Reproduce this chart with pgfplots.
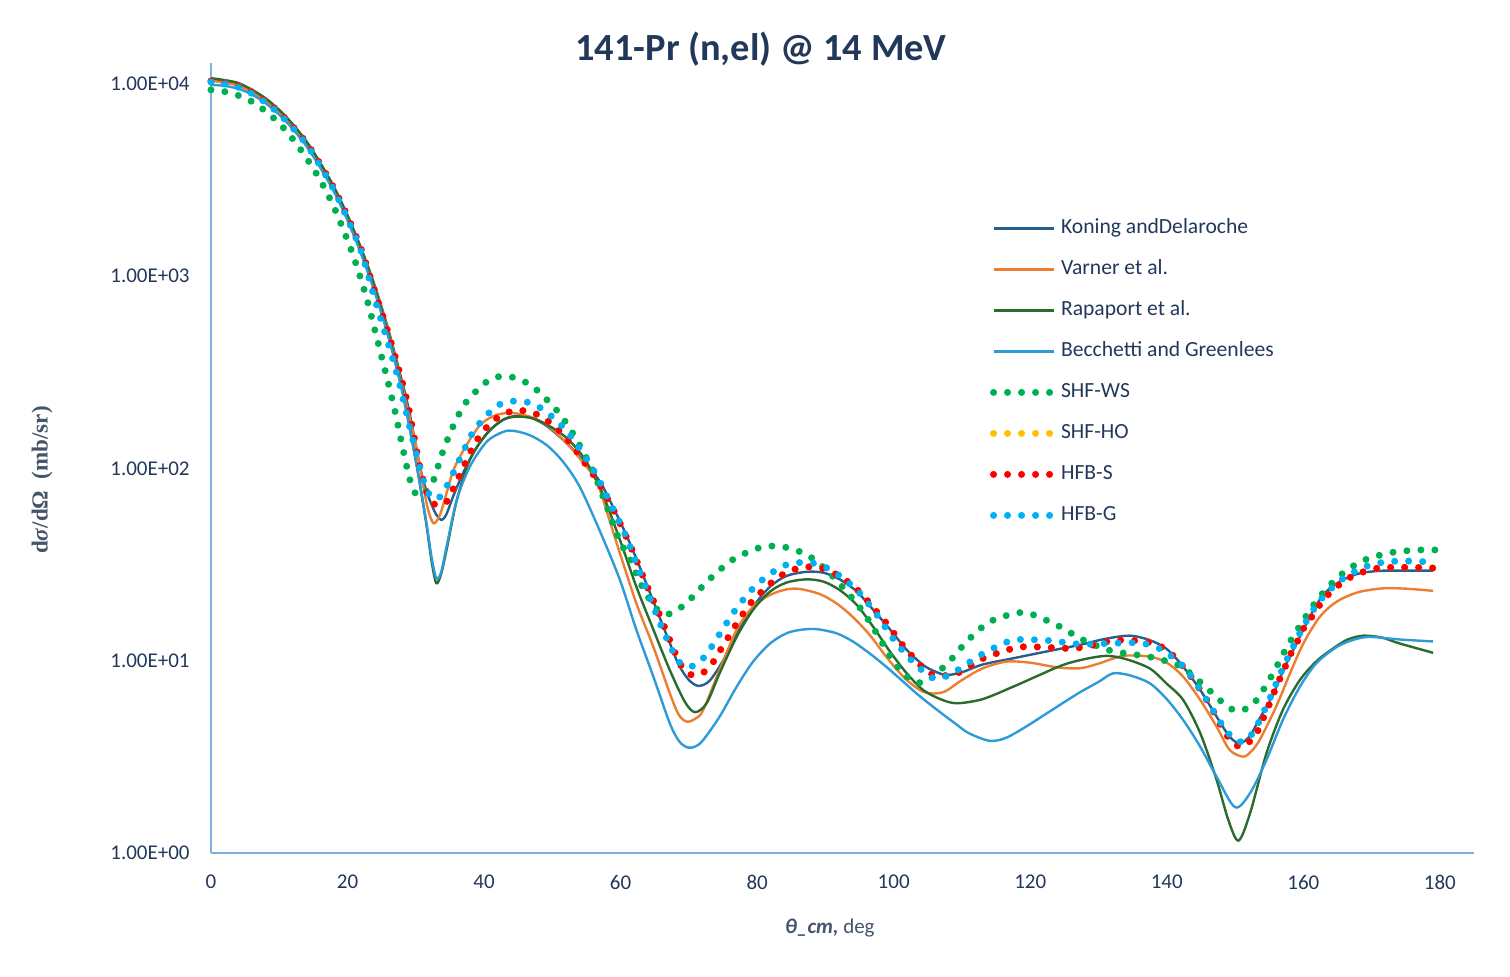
\documentclass[border=0pt]{standalone}
\usepackage{pgfplots}
\pgfplotsset{compat=1.18}
\usepackage{fontspec}
\setmainfont{Carlito}
\newfontfamily\serifb{Liberation Serif}
\definecolor{kon}{HTML}{255E91}
\definecolor{var}{HTML}{ED7D31}
\definecolor{rap}{HTML}{2A6B2E}
\definecolor{bec}{HTML}{2E9BD8}
\definecolor{shfws}{HTML}{00B050}
\definecolor{shfho}{HTML}{FFC000}
\definecolor{hfbs}{HTML}{FF0000}
\definecolor{hfbg}{HTML}{00B0F0}
\definecolor{axisc}{HTML}{7EB0E3}
\definecolor{txtc}{HTML}{22385A}
\definecolor{labc}{HTML}{44546A}
\begin{document}
\begin{tikzpicture}
\useasboundingbox (0,0) rectangle (755pt,488pt);
\node[font=\fontsize{19.2}{23}\selectfont\bfseries, text=txtc] at (380.5pt,463.5pt) {141-Pr (n,el) @ 14 MeV};
\begin{axis}[
  at={(105.5pt,61.5pt)}, anchor=south west,
  scale only axis, width=631.5pt, height=395pt,
  xmin=0, xmax=185, ymin=1, ymax=12850, ymode=log,
  clip=false,
  axis x line*=bottom, axis y line*=left,
  axis line style={draw=axisc, line width=1pt},
  tick style={draw=none},
  major tick length=0pt, minor tick length=0pt,
  yminorticks=false,
  xtick={0,20,...,180},
  ytick={1,10,100,1000,10000},
  yticklabels={1.00E+00,1.00E+01,1.00E+02,1.00E+03,1.00E+04},
  /pgf/number format/assume math mode=true,
  ticklabel style={font=\fontsize{10.5}{12}\selectfont, text=txtc},
  xticklabel style={anchor=center, yshift=-14.5pt},
  yticklabel style={anchor=east, inner sep=0pt, xshift=-10.5pt},
  xlabel={\textbf{\textit{θ\_cm,}} deg},
  xlabel style={at={(axis description cs:0.49,0)}, anchor=center, yshift=-37.5pt, font=\fontsize{10.5}{12}\selectfont, text=labc},
  ylabel={\serifb\bfseries d\textit{σ}/dΩ\ \ (mb/sr)},
  ylabel style={at={(axis description cs:-0.1338,0.472)}, anchor=center, rotate=0, font=\fontsize{11.5}{13}\selectfont, text=labc},
  legend cell align=left,
  legend style={draw=none, fill=none, at={(rel axis cs:0.6165,0.8025)}, anchor=north west,
    font=\fontsize{10.8}{12}\selectfont, text=txtc, row sep=11.5pt, column sep=2pt, inner sep=0pt,
    nodes={inner sep=0pt, text height=7pt, text depth=2pt}},
  legend image code/.code={\draw[#1] (0pt,0pt) -- (30pt,0pt);},
  lin/.style={smooth, tension=0.5, line width=1.2pt},
  dots/.style={smooth, tension=0.5, line width=3.5pt, line cap=round, dash pattern=on 0pt off 7pt},
]
\addplot[lin, kon] coordinates {(0,10470)(2,10230)(4,9890)(6,9120)(8,8220)(10,7160)(12,6050)(14,4970)(16,3870)(18,2900)(20,2066)(22,1396)(24,891)(26,525)(28,282)(29,201)(30,132)(31,89)(32,69)(33,57.5)(33.8,54)(34.5,58)(35.5,72)(37,96)(39,130)(41,160)(43,181)(45,188)(47,183)(49,168)(51,147)(53,126)(55,105)(57,85)(59,62)(61,43.7)(63,29.5)(65,19.5)(67,12.9)(68.5,9.55)(70,7.94)(71.4,7.40)(73,7.85)(75,10.0)(77,13.9)(79.4,19.1)(81.9,24.3)(84.3,27.6)(87.2,29.0)(89.7,28.7)(92.1,26.5)(94.6,22.9)(97,18.4)(99.5,14.5)(101.9,11.4)(104.3,9.51)(106,8.81)(107.7,8.43)(110,8.71)(113,9.55)(117.5,10.3)(122,11.1)(127.3,12.1)(131,13.0)(134.6,13.5)(137.5,12.8)(140,11.5)(142.4,9.31)(144.9,7.05)(147.3,5.12)(149.2,4.03)(150.7,3.72)(152.2,4.07)(153.6,5.01)(155.5,6.61)(157.2,9.12)(159,12.3)(161.9,19.5)(164,24.0)(166.8,27.4)(169,28.8)(171.7,29.4)(175,29.4)(179,29.4)};
\addlegendentry{Koning andDelaroche}
\addplot[lin, var] coordinates {(0,10400)(2,10150)(4,9800)(6,9050)(8,8150)(10,7100)(12,6000)(14,4920)(16,3830)(18,2870)(20,2040)(22,1380)(24,880)(26,515)(28,269)(29,190)(30,133)(31,85)(31.8,61)(32.6,51.9)(33.5,57)(34.5,74.3)(35.5,97.7)(37,124.7)(39.4,168)(41.8,190)(44.3,194)(46.7,186)(49.2,168)(51.6,141)(54,113)(56.5,85.3)(58.2,56.2)(59.9,36.2)(62.3,19.9)(64.8,11.8)(67.2,6.78)(68.5,5.25)(69.7,4.82)(71,5.01)(72.1,5.55)(74.5,8.95)(77,14.5)(79.4,19.1)(81.9,22.0)(84.3,23.5)(86.3,23.6)(89.2,22.2)(91.6,19.9)(94,16.9)(96.5,13.6)(98.9,10.5)(101.4,8.26)(103.8,7.05)(105.5,6.76)(107.5,6.92)(110,7.94)(113,9.12)(116.5,9.89)(120,9.77)(124,9.23)(127.3,9.14)(130,9.66)(133.6,10.6)(137.5,10.5)(140,9.77)(142.4,8.26)(144.9,6.25)(147.3,4.54)(149.2,3.44)(151.2,3.17)(152.4,3.39)(153.6,3.87)(156,5.75)(158,8.51)(160,12.3)(162.4,16.9)(164.9,20.3)(168,22.7)(171.7,23.8)(175,23.7)(179,23.1)};
\addlegendentry{Varner et al.}
\addplot[lin, rap] coordinates {(0,10720)(2,10470)(4,10120)(6,9333)(8,8414)(10,7328)(12,6166)(14,5012)(16,3890)(18,2917)(20,2065)(22,1380)(24,871)(26,501)(28,257)(30,110)(31.5,52.5)(32.3,33.1)(33,25.3)(33.7,28.2)(34.5,37.7)(36,68.5)(37.9,111)(40.4,152)(42.8,179)(44.8,186)(47.2,182)(49.6,166)(52.1,144)(54.5,115)(57,79.4)(59.9,42.5)(62.3,24.3)(64.8,14.5)(67.2,8.95)(69.4,6.12)(70.9,5.40)(72.6,6.01)(74.5,8.61)(77,13.3)(79.4,18.4)(81.9,22.9)(84.3,25.5)(87.2,26.5)(89.7,25.8)(92.1,23.3)(94.6,19.5)(97,15.0)(99.5,11.1)(101.9,8.61)(104.3,7.05)(106.8,6.32)(109.2,6.01)(113,6.31)(117.5,7.33)(121,8.32)(124.8,9.51)(128,10.2)(131.2,10.6)(134,10.2)(137.5,9.12)(140,7.59)(142.4,6.25)(144.9,4.20)(147.3,2.40)(149,1.49)(150.5,1.16)(152.2,1.61)(154.6,3.30)(157,5.55)(159.5,7.94)(162,10.0)(164.4,11.6)(166.5,12.9)(168.8,13.5)(171.5,13.2)(174.1,12.3)(179,11.0)};
\addlegendentry{Rapaport et al.}
\addplot[lin, bec] coordinates {(0,9886)(2,9772)(4,9441)(6,8810)(8,7943)(10,6918)(12,5821)(14,4732)(16,3673)(18,2754)(20,1950)(22,1303)(24,822)(26,479)(28,251)(30,110)(31.5,53.7)(32.3,34.7)(33,26.9)(33.7,28.8)(34.5,39.2)(36,68.5)(37.9,102)(40.4,138)(42.8,155)(44.3,157)(46.7,149)(49.2,132)(51.6,108)(54,80.4)(57,46.9)(59.9,26.3)(62.3,14.5)(64.8,8.26)(67.2,4.73)(68.6,3.80)(69.9,3.53)(71,3.59)(72.1,3.87)(74.5,5.12)(77,7.33)(79.4,9.89)(81.9,12.3)(84.3,13.9)(86.5,14.5)(88.7,14.6)(91.6,13.9)(94,12.6)(96.5,10.9)(98.9,9.31)(101.4,7.78)(103.8,6.55)(106.8,5.40)(109,4.72)(111,4.20)(114.1,3.83)(116.5,3.98)(119.5,4.57)(122.4,5.32)(127,6.76)(130,7.76)(132.1,8.59)(134.5,8.41)(137.5,7.64)(140,6.31)(142.4,4.92)(144.9,3.57)(147.3,2.49)(150,1.73)(152.2,2.05)(154.6,3.05)(157,4.92)(159.5,7.33)(161.9,9.70)(164.9,11.8)(167.5,12.9)(169.8,13.3)(174.1,12.9)(179,12.6)};
\addlegendentry{Becchetti and Greenlees}
\addplot[dots, shfws] coordinates {(0,9311)(2,9120)(4,8710)(6,8091)(8,7211)(10,6237)(12,5164)(14,4111)(16,3162)(18,2291)(20,1538)(21,1230)(22,955)(23,724)(24,525)(25,380)(26,275)(27,195)(28,132)(29,91.2)(29.6,77.6)(30.3,72.4)(31.1,73.6)(32.5,85.3)(33.8,118)(35.4,164)(37.4,222)(40.4,283)(42.3,301)(44.4,297)(46.4,277)(48.1,249)(51,194)(53.3,146)(55.3,108)(56.2,92.5)(58,63.1)(59.9,41.6)(61.1,35.5)(62.8,25.8)(63.8,22.2)(65,19.0)(66.7,17.4)(68.7,18.8)(70.2,20.9)(73.2,26.9)(76.5,33.7)(80.3,38.7)(82.4,39.5)(84.5,38.7)(86.5,36.6)(88.3,33.7)(90.5,28.8)(92.7,23.8)(95.5,18.0)(97.7,13.5)(99.9,10.0)(101.3,8.71)(102.9,7.78)(104.8,7.78)(106.5,8.77)(108,9.77)(110.8,12.7)(114,15.9)(118,17.7)(120.1,17.5)(124.1,15.2)(127.8,12.8)(131.7,11.3)(135.8,10.7)(137.9,10.4)(141.9,9.40)(145.1,7.64)(148.3,6.01)(150.1,5.50)(152.1,5.73)(153.5,6.50)(155.7,8.77)(157.6,11.8)(159.9,16.0)(162.3,21.3)(165.2,27.4)(168.6,33.0)(172.8,36.5)(177,37.7)(179.3,37.7)};
\addlegendentry{SHF-WS}
\addplot[dots, shfho] coordinates {(0,10350)(2,10120)(4,9772)(6,9078)(8,8128)(10,7112)(12,5998)(14,4920)(16,3828)(18,2871)(20,2042)(22,1380)(24,832)(26,501)(28,282)(29,201)(30.6,102)(31.8,72.4)(33.1,64.1)(34.76,68.5)(35.6,80.4)(36.5,93.5)(38.3,128)(39.4,148)(40.8,170)(42.4,188)(44.4,200)(46.5,198)(48.4,186)(50.1,168)(51.6,149)(53,130)(54.2,114)(55.4,98.9)(56.6,86.5)(59,60.3)(61.4,39.8)(63.8,24.8)(65.5,18.0)(67.2,12.8)(68.8,9.51)(70.4,8.43)(72.1,8.67)(73.6,9.89)(74.7,11.5)(75.8,13.3)(76.9,15.4)(78.1,17.9)(79.3,20.5)(80.8,23.1)(82.4,26.0)(84.2,28.7)(86.1,30.3)(88.2,30.8)(90.3,29.7)(92.1,27.4)(93.9,24.8)(95.4,22.0)(96.9,19.1)(98.2,16.8)(99.5,14.8)(100.7,12.8)(102,11.3)(103.4,9.89)(104.9,8.77)(106.5,8.34)(109,8.53)(110.9,9.25)(112.6,10.1)(114.7,10.8)(116.7,11.4)(118.7,11.8)(120.8,11.8)(123,11.7)(125.1,11.6)(127.3,11.7)(129.4,12.1)(131.4,12.6)(133.5,12.8)(135.6,12.7)(137.6,12.4)(139.6,11.6)(141.2,10.4)(142.6,9.14)(143.9,7.94)(145.1,6.90)(146.3,5.89)(147.3,5.08)(148.3,4.37)(149.5,3.79)(150.5,3.59)(151.4,3.61)(153,4.11)(153.9,4.82)(154.7,5.57)(155.5,6.56)(156.3,7.69)(157.2,9.04)(158,10.6)(159,12.3)(159.9,14.5)(161.1,16.6)(162.3,19.3)(163.6,22.0)(165.1,24.6)(166.9,27.2)(168.8,29.0)(170.9,30.3)(173.1,30.6)(175.1,30.6)(177.2,30.5)(179.4,30.3)};
\addlegendentry{SHF-HO}
\addplot[dots, hfbs] coordinates {(0,10350)(2,10120)(4,9772)(6,9078)(8,8128)(10,7112)(12,5998)(14,4920)(16,3828)(18,2871)(20,2042)(22,1380)(24,832)(26,501)(28,282)(29,201)(30.6,102)(31.8,72.4)(33.1,64.1)(34.76,68.5)(35.6,80.4)(36.5,93.5)(38.3,128)(39.4,148)(40.8,170)(42.4,188)(44.4,200)(46.5,198)(48.4,186)(50.1,168)(51.6,149)(53,130)(54.2,114)(55.4,98.9)(56.6,86.5)(59,60.3)(61.4,39.8)(63.8,24.8)(65.5,18.0)(67.2,12.8)(68.8,9.51)(70.4,8.43)(72.1,8.67)(73.6,9.89)(74.7,11.5)(75.8,13.3)(76.9,15.4)(78.1,17.9)(79.3,20.5)(80.8,23.1)(82.4,26.0)(84.2,28.7)(86.1,30.3)(88.2,30.8)(90.3,29.7)(92.1,27.4)(93.9,24.8)(95.4,22.0)(96.9,19.1)(98.2,16.8)(99.5,14.8)(100.7,12.8)(102,11.3)(103.4,9.89)(104.9,8.77)(106.5,8.34)(109,8.53)(110.9,9.25)(112.6,10.1)(114.7,10.8)(116.7,11.4)(118.7,11.8)(120.8,11.8)(123,11.7)(125.1,11.6)(127.3,11.7)(129.4,12.1)(131.4,12.6)(133.5,12.8)(135.6,12.7)(137.6,12.4)(139.6,11.6)(141.2,10.4)(142.6,9.14)(143.9,7.94)(145.1,6.90)(146.3,5.89)(147.3,5.08)(148.3,4.37)(149.5,3.79)(150.5,3.59)(151.4,3.61)(153,4.11)(153.9,4.82)(154.7,5.57)(155.5,6.56)(156.3,7.69)(157.2,9.04)(158,10.6)(159,12.3)(159.9,14.5)(161.1,16.6)(162.3,19.3)(163.6,22.0)(165.1,24.6)(166.9,27.2)(168.8,29.0)(170.9,30.3)(173.1,30.6)(175.1,30.6)(177.2,30.5)(179.4,30.3)};
\addlegendentry{HFB-S}
\addplot[dots, hfbg] coordinates {(0,10230)(2,10000)(4,9616)(6,8913)(8,7998)(10,6982)(12,5888)(14,4831)(16,3750)(18,2812)(20,1982)(22,1343)(24,759)(26.46,389)(27.6,277)(28.56,198)(29.54,142)(30.6,101)(31.1,86.5)(32,72.8)(33,69.2)(33.7,72.3)(34.76,83.8)(36.6,115)(38.5,157)(41.25,203)(43.06,221)(45.15,224)(47.2,217)(49,198)(50.6,177)(52.2,155)(54.6,118)(56.7,88.9)(58.6,64.6)(60.5,46.9)(62.1,33.7)(64.4,20.8)(66,15.0)(67.7,11.1)(68.9,9.57)(70,9.33)(70.9,9.51)(72.5,10.7)(74.8,14.3)(77.1,19.0)(79.9,24.8)(83.3,30.5)(85.3,32.1)(87.5,32.5)(89.4,31.2)(91.4,28.8)(94.7,23.1)(97.5,17.4)(99.8,13.2)(102.3,10.3)(105.5,8.20)(107.5,8.26)(109.4,8.95)(112.9,10.8)(116.8,12.6)(119,12.9)(123.1,12.7)(127.3,12.2)(131.4,12.3)(135.6,12.4)(137.8,12.0)(139.7,11.2)(141.3,10.1)(142.9,8.95)(145.2,6.78)(147.5,5.01)(148.7,4.33)(150.1,3.84)(151.2,3.80)(152.1,4.00)(153.2,4.58)(155,6.25)(156.7,8.67)(158.5,11.8)(160.4,16.0)(162.8,21.3)(165.9,26.9)(169.8,31.5)(173.9,33.0)(178,32.7)(179.4,32.7)};
\addlegendentry{HFB-G}
\end{axis}
\end{tikzpicture}
\end{document}
